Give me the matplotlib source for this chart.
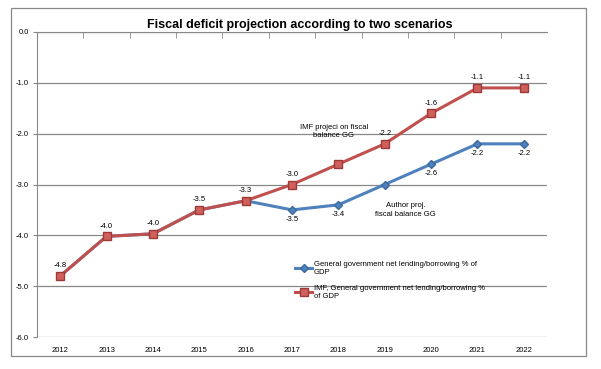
import matplotlib.pyplot as plt
from matplotlib.patches import Rectangle
from matplotlib.ticker import FixedLocator

years = ['2012', '2013', '2014', '2015', '2016', '2017', '2018', '2019', '2020', '2021', '2022']
author = [-4.8, -4.02, -3.97, -3.5, -3.32, -3.5, -3.4, -3.0, -2.6, -2.2, -2.2]
imf = [-4.8, -4.02, -3.97, -3.5, -3.32, -3.0, -2.6, -2.2, -1.6, -1.1, -1.1]
yticks = [0, -1, -2, -3, -4, -5, -6]

# which points get a value label
author_lbl = [5, 6, 8, 9, 10]
imf_lbl = [0, 1, 2, 3, 4, 5, 7, 8, 9, 10]

blue = '#4F81BD'
red = '#C0504D'

plt.rcParams['font.family'] = ['Liberation Sans', 'DejaVu Sans']

fig = plt.figure(figsize=(6.01, 3.69), dpi=100)
ax = fig.add_axes([37 / 601, 1 - 337 / 369, 510 / 601, 305 / 369])

# outer chart border
fig.patches.append(Rectangle((11 / 601, 1 - 356 / 369), 575 / 601, 348 / 369,
                             transform=fig.transFigure, fill=False,
                             edgecolor='#888888', lw=0.9))

x = list(range(len(years)))
ax.plot(x, author, color=blue, lw=2.2, marker='D', ms=4.5, mfc=blue, mec='#3a6a9e',
        label='General government net lending/borrowing % of\nGDP', zorder=3)
ax.plot(x, imf, color=red, lw=2.2, marker='s', ms=6, mfc='#d0605c', mec='#9c3a37',
        label='IMF, General government net lending/borrowing %\nof GDP', zorder=4)

for i in author_lbl:
    ax.text(x[i], author[i] - 0.12, f'{author[i]:.1f}', ha='center', va='top', fontsize=5.5)
for i in imf_lbl:
    ax.text(x[i], imf[i] + 0.13, f'{imf[i]:.1f}', ha='center', va='bottom', fontsize=5.5)

# free text boxes
ax.text(5.9, -1.96, 'IMF projeci on fiscal\nbalance GG', ha='center', va='center',
        fontsize=5.5, linespacing=1.3)
ax.text(7.45, -3.5, 'Author proj.\nfiscal balance GG', ha='center', va='center',
        fontsize=5.5, linespacing=1.3)

ax.set_xlim(-0.5, len(years) - 0.5)
ax.set_ylim(-6, 0)
ax.set_yticks(yticks)
ax.set_yticklabels([f'{v:.1f}' for v in yticks], fontsize=5.5)
ax.set_xticks(x)
ax.set_xticklabels(years, fontsize=5.5)
ax.xaxis.set_minor_locator(FixedLocator([i + 0.5 for i in range(len(years) - 1)]))
ax.tick_params(axis='x', which='major', length=0, pad=7)
ax.tick_params(axis='x', which='minor', bottom=False, top=True, direction='in', length=4,
               color='#888888')
ax.tick_params(axis='y', length=3, color='#888888', pad=3)
ax.grid(axis='y', color='#888888', lw=0.9)
ax.set_axisbelow(True)
for s in ['right', 'bottom']:
    ax.spines[s].set_visible(False)
ax.spines['left'].set_color('#888888')
ax.spines['top'].set_color('#888888')

ax.legend(loc='upper left', bbox_to_anchor=(291 / 601, 1 - 257 / 369),
          bbox_transform=fig.transFigure, frameon=False, fontsize=5.5,
          handlelength=2.3, handletextpad=0.2, labelspacing=1.2, borderpad=0)

fig.text(300 / 601, 1 - 25 / 369, 'Fiscal deficit projection according to two scenarios',
         ha='center', va='center', fontsize=9, fontweight='bold')

fig.savefig('out.png', dpi=100)
